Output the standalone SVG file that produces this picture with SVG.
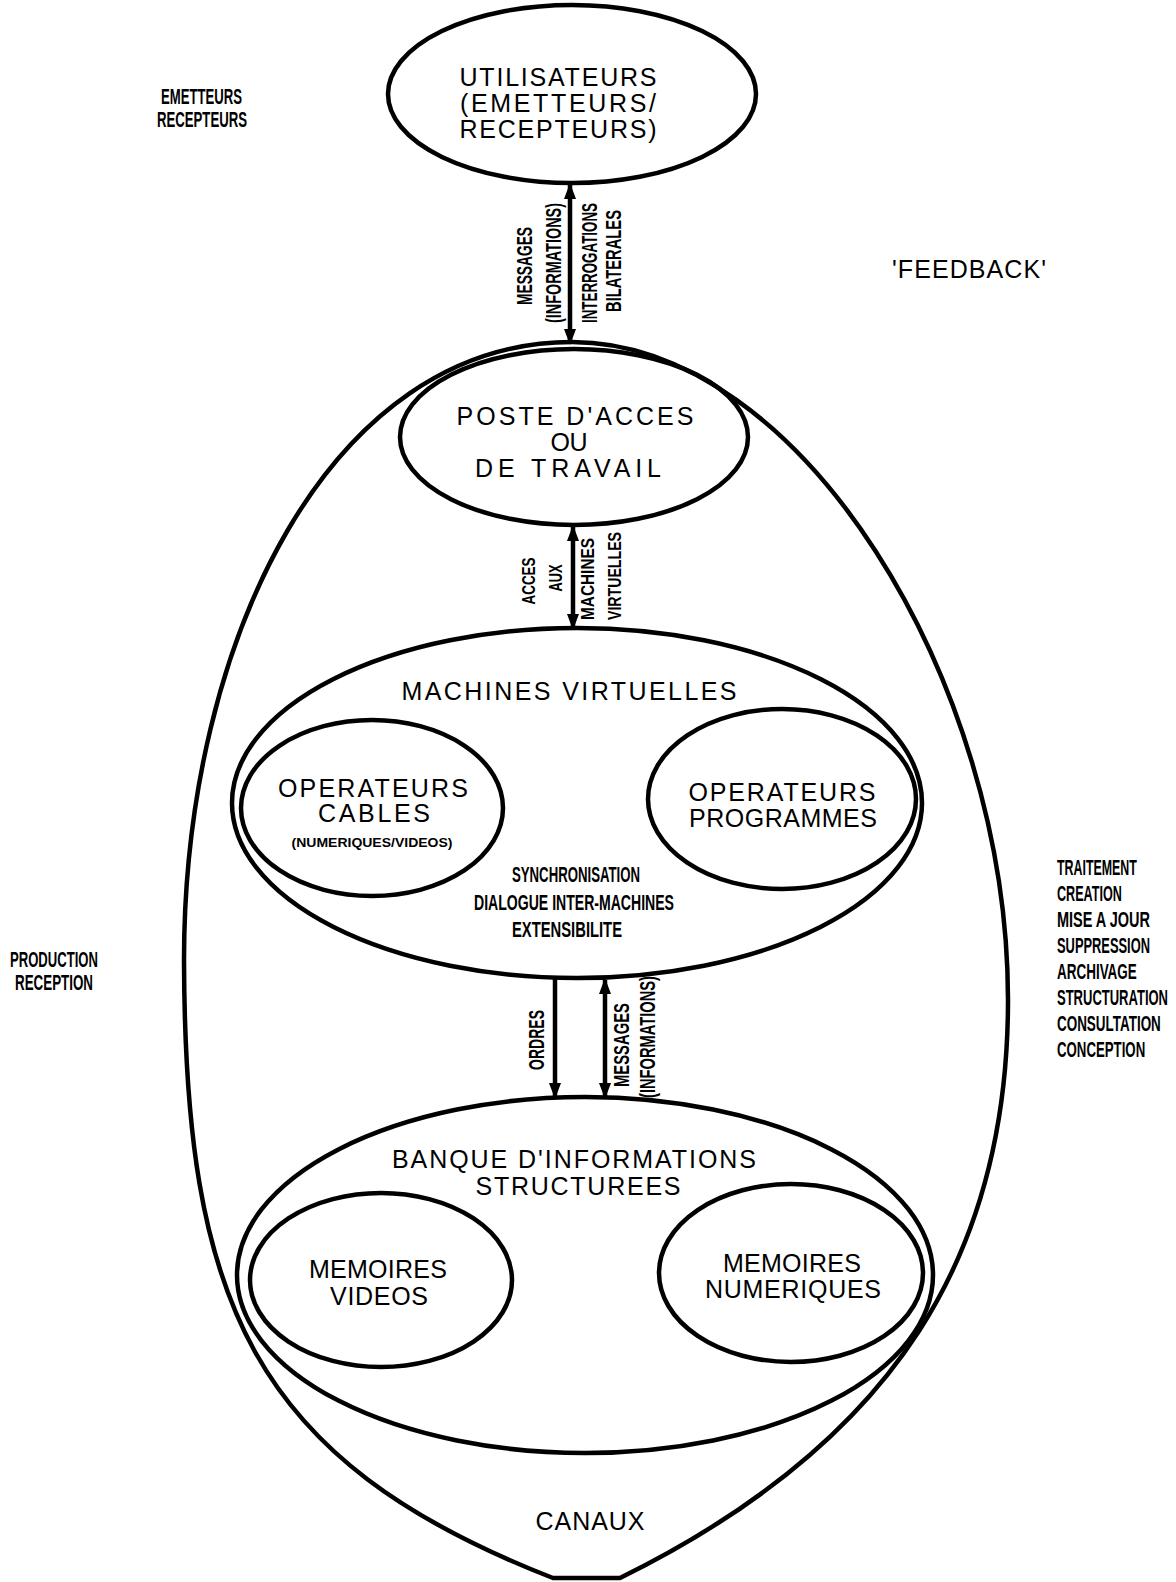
<svg xmlns="http://www.w3.org/2000/svg" width="1176" height="1582" viewBox="0 0 1176 1582">
<style>
.ln{fill:none;stroke:#000;stroke-width:4.5}
.ar{fill:none;stroke:#000;stroke-width:4.5;marker-start:url(#ah);marker-end:url(#ah)}
.ar1{fill:none;stroke:#000;stroke-width:4.5;marker-end:url(#ah)}
.lbl{font-family:"Liberation Sans",Arial,sans-serif;font-size:25px;text-anchor:middle;fill:#000}
.cnd{font-family:"Liberation Sans",Arial,sans-serif;font-weight:bold;font-size:22px;fill:#000}
.mid{text-anchor:middle}
.sm{font-size:19px}
.xs{font-size:13px}
</style>
<defs>
<marker id="ah" viewBox="0 0 16 12" refX="14" refY="6" markerWidth="16" markerHeight="12" orient="auto-start-reverse" markerUnits="userSpaceOnUse"><path d="M0,0 L16,6 L0,12 z" fill="#000"/></marker>
</defs>
<rect width="1176" height="1582" fill="#fff"/>

<g id="canaux">
<path class="ln" d="M 572 342 C 800 342 1008 680 1008 1000 C 1008 1250 900 1440 620 1578 L 553 1578 C 250 1460 185 1300 184 960 C 184 640 330 342 572 342 Z"/>
<text class="lbl" x="590" y="1530" textLength="109">CANAUX</text>
</g>

<g id="utilisateurs">
<ellipse class="ln" cx="572" cy="94" rx="184" ry="89"/>
<text class="lbl" x="558" y="86" font-size="24" textLength="197">UTILISATEURS</text>
<text class="lbl" x="558" y="112" font-size="24" textLength="196">(EMETTEURS/</text>
<text class="lbl" x="558" y="138" font-size="24" textLength="197">RECEPTEURS)</text>
</g>

<g id="poste">
<ellipse class="ln" cx="574" cy="437" rx="174" ry="88"/>
<text class="lbl" x="575" y="425" textLength="237">POSTE D'ACCES</text>
<text class="lbl" x="569" y="451" textLength="37">OU</text>
<text class="lbl" x="568" y="477" textLength="186">DE TRAVAIL</text>
</g>

<g id="machines">
<ellipse class="ln" cx="577" cy="803" rx="345" ry="175"/>
<text class="lbl" x="569" y="700" textLength="335">MACHINES VIRTUELLES</text>
<text class="cnd mid" x="576" y="882" font-size="25" textLength="128" lengthAdjust="spacingAndGlyphs">SYNCHRONISATION</text>
<text class="cnd mid" x="574" y="910" font-size="25" textLength="200" lengthAdjust="spacingAndGlyphs">DIALOGUE INTER-MACHINES</text>
<text class="cnd mid" x="567" y="937" font-size="25" textLength="110" lengthAdjust="spacingAndGlyphs">EXTENSIBILITE</text>
</g>

<g id="op-cables">
<ellipse class="ln" cx="372" cy="808" rx="131" ry="88"/>
<text class="lbl" x="373" y="797" textLength="190">OPERATEURS</text>
<text class="lbl" x="374" y="822" textLength="112">CABLES</text>
<text class="cnd mid xs" x="372" y="847" textLength="161" lengthAdjust="spacingAndGlyphs">(NUMERIQUES/VIDEOS)</text>
</g>

<g id="op-programmes">
<ellipse class="ln" cx="782" cy="799" rx="134" ry="90"/>
<text class="lbl" x="782" y="801" textLength="187">OPERATEURS</text>
<text class="lbl" x="783" y="827" textLength="188">PROGRAMMES</text>
</g>

<g id="banque">
<ellipse class="ln" cx="585" cy="1275" rx="348" ry="178"/>
<text class="lbl" x="574" y="1168" textLength="364">BANQUE D'INFORMATIONS</text>
<text class="lbl" x="578" y="1195" textLength="205">STRUCTUREES</text>
</g>

<g id="mem-videos">
<ellipse class="ln" cx="381" cy="1280" rx="131" ry="87"/>
<text class="lbl" x="378" y="1278" textLength="138">MEMOIRES</text>
<text class="lbl" x="379" y="1305" textLength="98">VIDEOS</text>
</g>

<g id="mem-numeriques">
<ellipse class="ln" cx="791" cy="1273" rx="132" ry="89"/>
<text class="lbl" x="792" y="1272" textLength="138">MEMOIRES</text>
<text class="lbl" x="793" y="1298" textLength="176">NUMERIQUES</text>
</g>

<g id="connectors">
<line class="ar" x1="570" y1="185" x2="570" y2="343"/>
<line class="ar" x1="573" y1="527" x2="573" y2="628"/>
<line class="ar1" x1="555" y1="978" x2="555" y2="1097"/>
<line class="ar" x1="605" y1="980" x2="605" y2="1097"/>
</g>

<g id="connector-labels">
<text class="cnd mid" x="524" y="274" textLength="78" lengthAdjust="spacingAndGlyphs" transform="rotate(-90 524 266)">MESSAGES</text>
<text class="cnd mid" x="553" y="271" textLength="120" lengthAdjust="spacingAndGlyphs" transform="rotate(-90 553 263)">(INFORMATIONS)</text>
<text class="cnd mid" x="589" y="271" textLength="120" lengthAdjust="spacingAndGlyphs" transform="rotate(-90 589 263)">INTERROGATIONS</text>
<text class="cnd mid" x="613" y="269" textLength="102" lengthAdjust="spacingAndGlyphs" transform="rotate(-90 613 261)">BILATERALES</text>

<text class="cnd mid sm" x="528" y="588" textLength="47" lengthAdjust="spacingAndGlyphs" transform="rotate(-90 528 581)">ACCES</text>
<text class="cnd mid sm" x="555" y="585" textLength="27" lengthAdjust="spacingAndGlyphs" transform="rotate(-90 555 578)">AUX</text>
<text class="cnd mid sm" x="587" y="586" textLength="82" lengthAdjust="spacingAndGlyphs" transform="rotate(-90 587 579)">MACHINES</text>
<text class="cnd mid sm" x="614" y="583" textLength="88" lengthAdjust="spacingAndGlyphs" transform="rotate(-90 614 576)">VIRTUELLES</text>

<text class="cnd mid" x="536" y="1048" textLength="60" lengthAdjust="spacingAndGlyphs" transform="rotate(-90 536 1040)">ORDRES</text>
<text class="cnd mid" x="621" y="1053" textLength="84" lengthAdjust="spacingAndGlyphs" transform="rotate(-90 621 1045)">MESSAGES</text>
<text class="cnd mid" x="647" y="1045" textLength="122" lengthAdjust="spacingAndGlyphs" transform="rotate(-90 647 1037)">(INFORMATIONS)</text>
</g>

<g id="annotations">
<text class="cnd" x="161" y="104" font-size="21" textLength="81" lengthAdjust="spacingAndGlyphs">EMETTEURS</text>
<text class="cnd" x="157" y="127" font-size="21" textLength="90" lengthAdjust="spacingAndGlyphs">RECEPTEURS</text>
<text class="lbl" x="969" y="278" font-size="23" textLength="154">'FEEDBACK'</text>
<text class="cnd" x="10" y="967" font-size="21" textLength="88" lengthAdjust="spacingAndGlyphs">PRODUCTION</text>
<text class="cnd" x="15" y="990" font-size="21" textLength="78" lengthAdjust="spacingAndGlyphs">RECEPTION</text>
<text class="cnd" transform="translate(1057 875) scale(0.6 1)" x="0" y="0" textLength="133" lengthAdjust="spacingAndGlyphs">TRAITEMENT</text>
<text class="cnd" transform="translate(1057 901) scale(0.6 1)" x="0" y="0" textLength="108" lengthAdjust="spacingAndGlyphs">CREATION</text>
<text class="cnd" transform="translate(1057 927) scale(0.6 1)" x="0" y="0" textLength="155" lengthAdjust="spacingAndGlyphs">MISE A JOUR</text>
<text class="cnd" transform="translate(1057 953) scale(0.6 1)" x="0" y="0" textLength="155" lengthAdjust="spacingAndGlyphs">SUPPRESSION</text>
<text class="cnd" transform="translate(1057 979) scale(0.6 1)" x="0" y="0" textLength="133" lengthAdjust="spacingAndGlyphs">ARCHIVAGE</text>
<text class="cnd" transform="translate(1057 1005) scale(0.6 1)" x="0" y="0" textLength="185" lengthAdjust="spacingAndGlyphs">STRUCTURATION</text>
<text class="cnd" transform="translate(1057 1031) scale(0.6 1)" x="0" y="0" textLength="173" lengthAdjust="spacingAndGlyphs">CONSULTATION</text>
<text class="cnd" transform="translate(1057 1057) scale(0.6 1)" x="0" y="0" textLength="147" lengthAdjust="spacingAndGlyphs">CONCEPTION</text>
</g>
</svg>
